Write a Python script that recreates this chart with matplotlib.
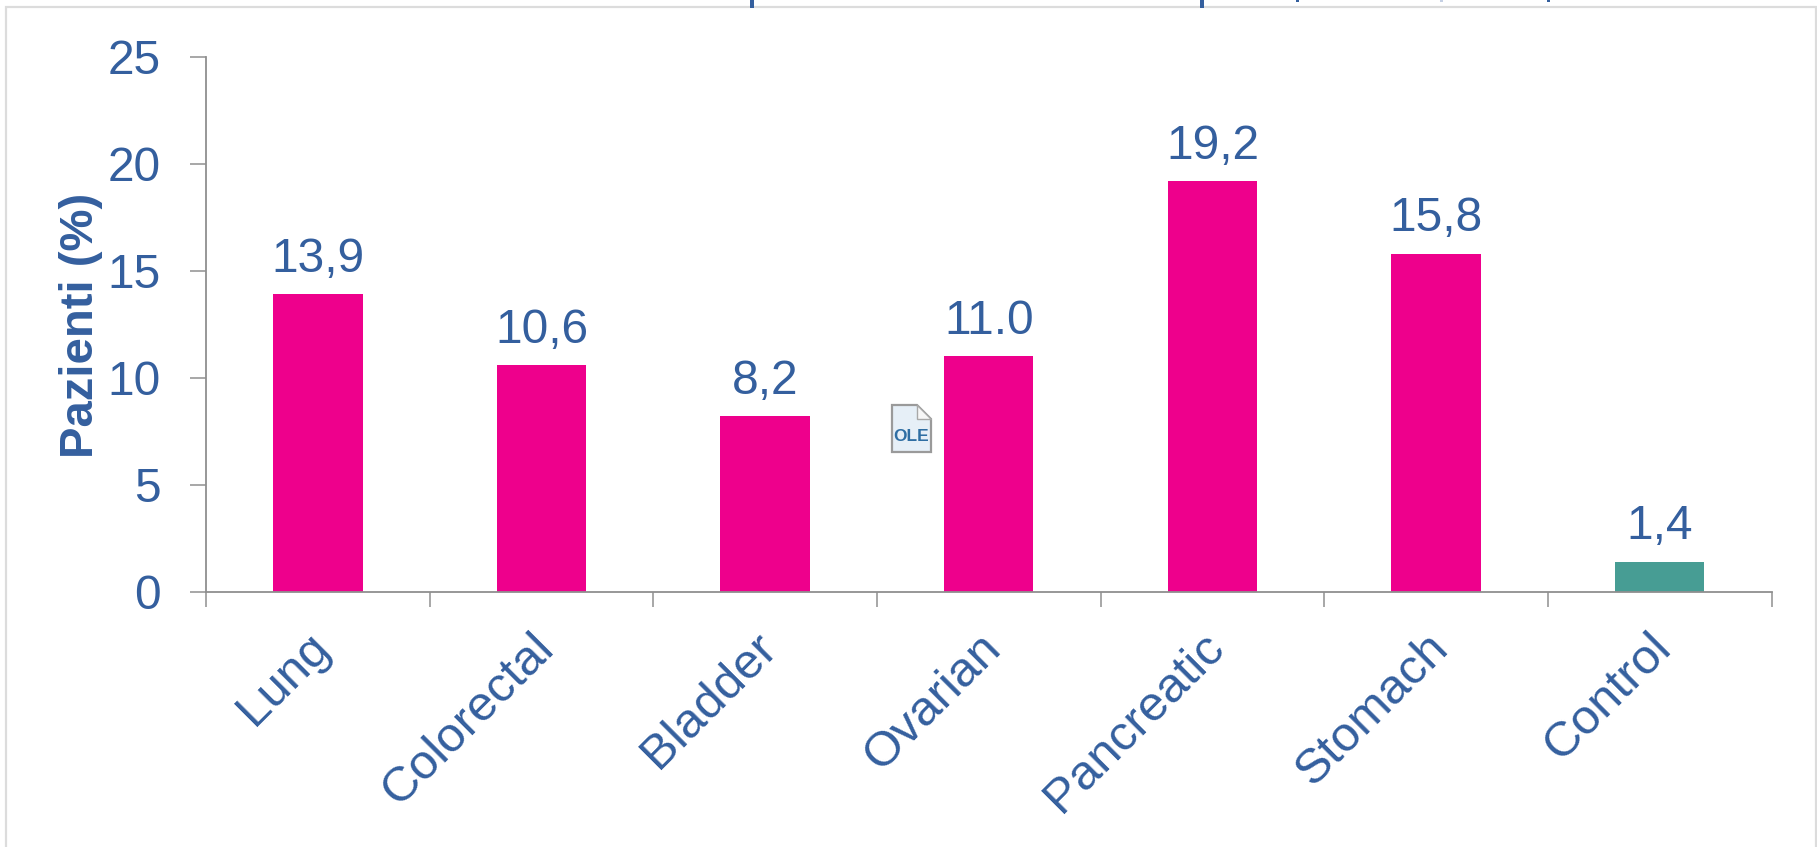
import matplotlib
matplotlib.use("Agg")
import matplotlib.pyplot as plt
from matplotlib.patches import Rectangle, Polygon
from matplotlib.transforms import ScaledTranslation

categories = ["Lung", "Colorectal", "Bladder", "Ovarian", "Pancreatic", "Stomach", "Control"]
values = [13.9, 10.6, 8.2, 11.0, 19.2, 15.8, 1.4]
value_labels = ["13,9", "10,6", "8,2", "11.0", "19,2", "15,8", "1,4"]
bar_colors = ["#ee008c"] * 6 + ["#479d94"]
y_ticks = [0, 5, 10, 15, 20, 25]
y_label = "Pazienti (%)"

W, H = 1817, 847
BLUE = "#345f9e"
GREY = "#8f8f8f"
plt.rcParams["font.family"] = ["Liberation Sans", "DejaVu Sans"]

def fx(p): return p / W
def fy(p): return 1 - p / H

fig = plt.figure(figsize=(W / 100, H / 100), dpi=100, facecolor="white")

# slide frame (continues past the bottom of the crop)
fig.add_artist(Rectangle((fx(6), fy(H + 10)), fx(1810), (H + 10 - 7) / H, transform=fig.transFigure,
                         fill=False, ec="#dcdcdc", lw=1.6))
# cut-off descenders of the slide title at the top edge
for x0, w, h, c in [(750, 4, 8, "#345f9e"), (1200, 4, 8, "#345f9e"), (1296, 3, 2, "#345f9e"),
                    (1440, 3, 2, "#c5d0e4"), (1547, 3, 2, "#345f9e")]:
    fig.add_artist(Rectangle((fx(x0), fy(h)), w / W, h / H, transform=fig.transFigure, fc=c, ec="none"))

ax = fig.add_axes([fx(206), fy(591.5), (1771.5 - 206) / W, (591.5 - 57) / H])
ax.patch.set_alpha(0)
centers = [i + 0.5 for i in range(len(categories))]
ax.bar(centers, values, width=0.4, color=bar_colors, zorder=2)
ax.set_xlim(0, len(categories))
ax.set_ylim(0, 25)

for s in ("top", "right"):
    ax.spines[s].set_visible(False)
for s in ("left", "bottom"):
    ax.spines[s].set_color(GREY)
    ax.spines[s].set_linewidth(1.3)

ax.set_yticks(y_ticks)
ax.tick_params(axis="y", length=11.5, width=1.1, color=GREY, labelcolor=BLUE, labelsize=34.5, pad=21)
ax.set_xticks(range(len(categories) + 1), minor=True)
ax.tick_params(axis="x", which="minor", length=11, width=1.1, color=GREY)
ax.set_xticks(centers)
ax.set_xticklabels(categories, rotation=45, ha="right", va="top", rotation_mode="anchor",
                   fontsize=35.5, color=BLUE)
ax.tick_params(axis="x", which="major", length=0, pad=24)
shift = ScaledTranslation(-11 / 100, 0, fig.dpi_scale_trans)
for lab in ax.get_xticklabels():
    lab.set_transform(lab.get_transform() + shift)

for c, v, t in zip(centers, values, value_labels):
    ax.annotate(t, (c, v), xytext=(0, 16), textcoords="offset points", ha="center", va="baseline",
                fontsize=34.5, color=BLUE)

fig.text(fx(81), fy(325), y_label, rotation=90, ha="center", va="center", fontsize=34,
         fontweight="bold", color=BLUE)

# OLE object icon
fig.add_artist(Polygon([(fx(892), fy(452)), (fx(892), fy(405)), (fx(917), fy(405)), (fx(931), fy(419)),
                        (fx(931), fy(452))], closed=True, transform=fig.transFigure,
                       fc="#e6eff7", ec="#9a9a9a", lw=1.6))
fig.add_artist(Polygon([(fx(917), fy(405)), (fx(917), fy(419)), (fx(931), fy(419))], closed=True,
                       transform=fig.transFigure, fc="#f7f7f7", ec="#a8a8a8", lw=1))
fig.text(fx(911.5), fy(436), "OLE", ha="center", va="center", fontsize=12.5, fontweight="bold",
         color="#2f6ea3")

fig.savefig("out.png", dpi=100, facecolor="white")
